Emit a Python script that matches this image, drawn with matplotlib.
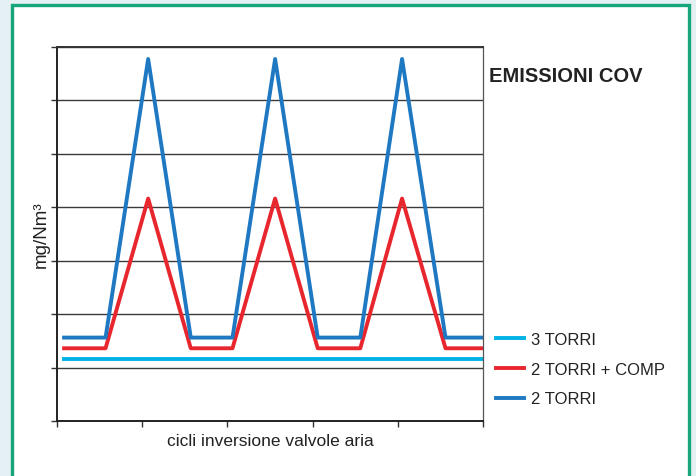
import matplotlib
matplotlib.use("Agg")
import matplotlib.pyplot as plt
from matplotlib.patches import Rectangle
from matplotlib.lines import Line2D

plt.rcParams['font.family'] = ['Liberation Sans', 'DejaVu Sans']

# Data (x in cycle units, y in mg/Nm3 grid units)
x_pts = [0.06, 0.57, 1.07, 1.57, 2.06, 2.56, 3.06, 3.56, 4.05, 4.56, 5.01]
due_torri = [1.56, 1.56, 6.77, 1.56, 1.56, 6.77, 1.56, 1.56, 6.77, 1.56, 1.56]
due_torri_comp = [1.36, 1.36, 4.16, 1.36, 1.36, 4.16, 1.36, 1.36, 4.16, 1.36, 1.36]
tre_torri_x = [0.06, 5.01]
tre_torri = [1.16, 1.16]
x_ticks = [0, 1, 2, 3, 4, 5]
y_ticks = [0, 1, 2, 3, 4, 5, 6, 7]
labels = ["3 TORRI", "2 TORRI + COMP", "2 TORRI"]
title = "EMISSIONI COV"
xlabel = "cicli inversione valvole aria"
ylabel = "mg/Nm³"

W, H = 696, 477
fig = plt.figure(figsize=(W / 100, H / 100), dpi=100)
fig.patch.set_facecolor('#e4f0f3')

# white panel with green frame
fig.patches.append(Rectangle((12 / W, -0.05), (689 - 12) / W, 1.05 - 6 / H,
                             transform=fig.transFigure, facecolor='white',
                             edgecolor='#17a67c', linewidth=2.4, zorder=-5))

ax = fig.add_axes([57 / W, (H - 422) / H, 426 / W, (422 - 47.7) / H])
ax.set_zorder(2)
ax.set_facecolor('white')
ax.set_xlim(0, 5)
ax.set_ylim(0, 7)
ax.set_xticks(x_ticks)
ax.set_yticks(y_ticks)
ax.set_xticklabels([])
ax.set_yticklabels([])
ax.tick_params(axis='both', direction='out', length=4, width=1, color='#333333')
ax.yaxis.grid(True, color='#3a3a3a', linewidth=1.0)
ax.set_axisbelow(True)
for s in ['left', 'bottom']:
    ax.spines[s].set_color('#222222')
    ax.spines[s].set_linewidth(1.4)
ax.spines['top'].set_color('#333333')
ax.spines['top'].set_linewidth(1.4)
ax.spines['right'].set_color('#555555')
ax.spines['right'].set_linewidth(0.9)

c_cyan = '#00b2e6'
c_red = '#e8262e'
c_blue = '#1e78c2'
lw = 2.8
ax.plot(tre_torri_x, tre_torri, color=c_cyan, lw=lw, clip_on=False, solid_capstyle='butt')
ax.plot(x_pts, due_torri_comp, color=c_red, lw=lw, clip_on=False, solid_capstyle='butt')
ax.plot(x_pts, due_torri, color=c_blue, lw=lw, clip_on=False, solid_capstyle='butt')

ax.set_xlabel(xlabel, fontsize=12.5, color='#222222', labelpad=1)
ax.set_ylabel(ylabel, fontsize=13.5, color='#222222', labelpad=-2)

fig.text(489 / W, 1 - 77 / H, title, fontsize=14.5, fontweight='bold',
         color='#222222', va='center', ha='left')

handles = [Line2D([], [], color=c_cyan, lw=lw),
           Line2D([], [], color=c_red, lw=lw),
           Line2D([], [], color=c_blue, lw=lw)]
leg = fig.legend(handles, labels, loc='upper left',
                 bbox_to_anchor=(496 / W, 1 - 333 / H), frameon=False,
                 fontsize=12, handlelength=1.7, handletextpad=0.4,
                 labelspacing=0.88, borderaxespad=0, borderpad=0)
for t in leg.get_texts():
    t.set_color('#222222')

fig.savefig('out.png', dpi=100, facecolor=fig.get_facecolor())
